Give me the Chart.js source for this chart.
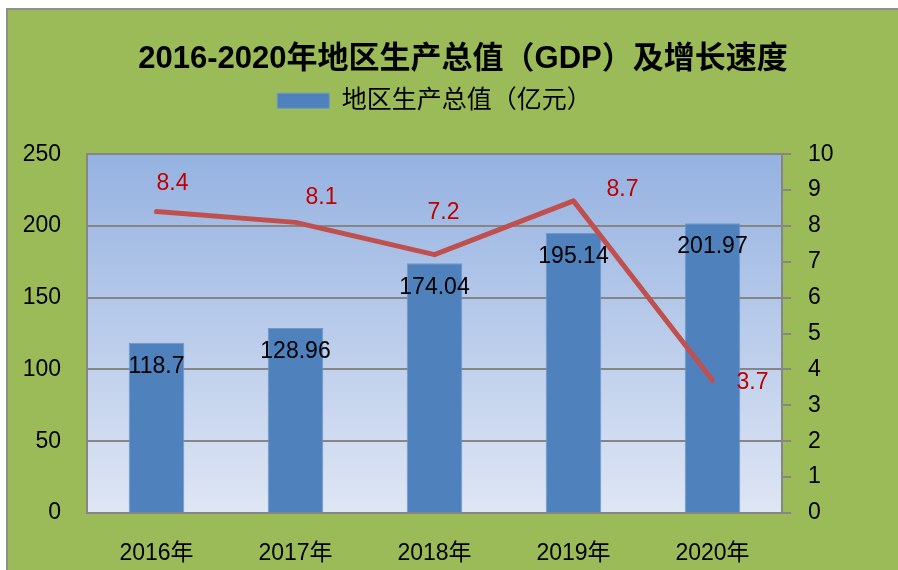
<!DOCTYPE html>
<html>
<head>
<meta charset="utf-8">
<script src="https://cdn.jsdelivr.net/npm/chart.js@4.4.0/dist/chart.umd.min.js"></script>
<style>
    html, body { margin: 0; padding: 0; background: #ffffff; overflow: hidden; }
</style>
</head>
<body>
<canvas id="gdp_chart" width="926" height="570"></canvas>
<script>
// chart data
const years = ['2016年', '2017年', '2018年', '2019年', '2020年'];
const gdp_values = [118.7, 128.96, 174.04, 195.14, 201.97];
const growth_rates = [8.4, 8.1, 7.2, 8.7, 3.7];

// where the red growth labels sit next to their points (px)
const growth_label_offsets = [[16, -28], [26, -25], [9, -42], [49, -11], [40, 2]];

const font_family = "'Liberation Sans', 'Noto Sans CJK SC', sans-serif";
const grid_grey = '#868686';

Chart.defaults.font.family = font_family;
Chart.defaults.color = '#000000';

// green chart background and blue gradient plot area
const background_plugin = {
    id: 'background',
    beforeDraw(chart) {
        const ctx = chart.ctx;
        const area = chart.chartArea;
        ctx.save();
        ctx.fillStyle = '#ffffff';
        ctx.fillRect(0, 0, chart.width, chart.height);
        ctx.fillStyle = '#9BBB59';
        ctx.fillRect(7, 9, chart.width, chart.height);
        ctx.strokeStyle = '#8f8f8f';
        ctx.lineWidth = 2;
        ctx.beginPath();
        ctx.moveTo(7, chart.height);
        ctx.lineTo(7, 9);
        ctx.lineTo(chart.width, 9);
        ctx.stroke();

        const gradient = ctx.createLinearGradient(0, area.top, 0, area.bottom);
        gradient.addColorStop(0, '#95B2E1');
        gradient.addColorStop(1, '#DFE6F4');
        ctx.fillStyle = gradient;
        ctx.fillRect(area.left, area.top, area.right - area.left, area.bottom - area.top);
        ctx.restore();
    }
};

// value labels for bars and the growth line
const value_label_plugin = {
    id: 'value_labels',
    afterDatasetsDraw(chart) {
        const ctx = chart.ctx;
        ctx.save();
        ctx.font = `23px ${font_family}`;
        ctx.textAlign = 'center';
        ctx.textBaseline = 'middle';

        chart.getDatasetMeta(0).data.forEach((bar, i) => {
            ctx.fillStyle = '#000000';
            ctx.fillText(String(gdp_values[i]), bar.x, bar.y + 24);
        });

        chart.getDatasetMeta(1).data.forEach((point, i) => {
            const offset = growth_label_offsets[i];
            ctx.fillStyle = '#C00000';
            ctx.fillText(growth_rates[i].toFixed(1), point.x + offset[0], point.y + offset[1]);
        });
        ctx.restore();
    }
};

const chart_canvas = document.getElementById('gdp_chart');

const gdp_chart = new Chart(chart_canvas, {
    type: 'bar',
    data: {
        labels: years,
        datasets: [{
            label: '地区生产总值（亿元）',
            data: gdp_values,
            backgroundColor: '#4F81BD',
            borderColor: '#6F98CC',
            borderWidth: 1,
            barPercentage: 0.4,
            categoryPercentage: 1,
            yAxisID: 'y',
            order: 2
        }, {
            type: 'line',
            label: '增长速度',
            data: growth_rates,
            borderColor: '#C0504D',
            borderWidth: 5,
            borderCapStyle: 'round',
            borderJoinStyle: 'round',
            pointRadius: 0,
            tension: 0,
            fill: false,
            yAxisID: 'y_rate',
            order: 1
        }]
    },
    options: {
        responsive: false,
        animation: false,
        layout: { padding: 0 },
        scales: {
            x: {
                grid: { display: false },
                border: { display: true, color: grid_grey, width: 2 },
                ticks: { padding: 19, font: { size: 23 }, color: '#000000' },
                afterFit: (scale) => { scale.height = 57; }
            },
            x_spacer: {
                type: 'category',
                position: 'top',
                labels: years,
                grid: { display: false },
                border: { display: false },
                ticks: { display: false },
                afterFit: (scale) => { scale.height = 31; }
            },
            y: {
                position: 'left',
                min: 0,
                max: 250,
                ticks: { stepSize: 50, padding: 26, font: { size: 23 }, color: '#000000' },
                grid: { color: grid_grey, lineWidth: 2, drawTicks: false },
                border: { display: true, color: grid_grey, width: 2 },
                afterFit: (scale) => { scale.width = 87; }
            },
            y_rate: {
                position: 'right',
                min: 0,
                max: 10,
                ticks: { stepSize: 1, padding: 17, font: { size: 23 }, color: '#000000' },
                grid: { drawOnChartArea: false, drawTicks: true, tickLength: 9, color: grid_grey, lineWidth: 2 },
                border: { display: true, color: grid_grey, width: 2 },
                afterFit: (scale) => { scale.width = 926 - 782; }
            }
        },
        plugins: {
            title: {
                display: true,
                text: '2016-2020年地区生产总值（GDP）及增长速度',
                color: '#000000',
                font: { size: 31, weight: 'bold' },
                padding: { top: 41, bottom: 0 }
            },
            legend: {
                display: true,
                position: 'top',
                fullSize: false,
                labels: {
                    boxWidth: 52,
                    boxHeight: 15,
                    color: '#000000',
                    font: { size: 25 },
                    filter: (item) => item.datasetIndex === 0
                }
            },
            tooltip: { enabled: false }
        }
    },
    plugins: [background_plugin, value_label_plugin]
});
</script>
</body>
</html>
